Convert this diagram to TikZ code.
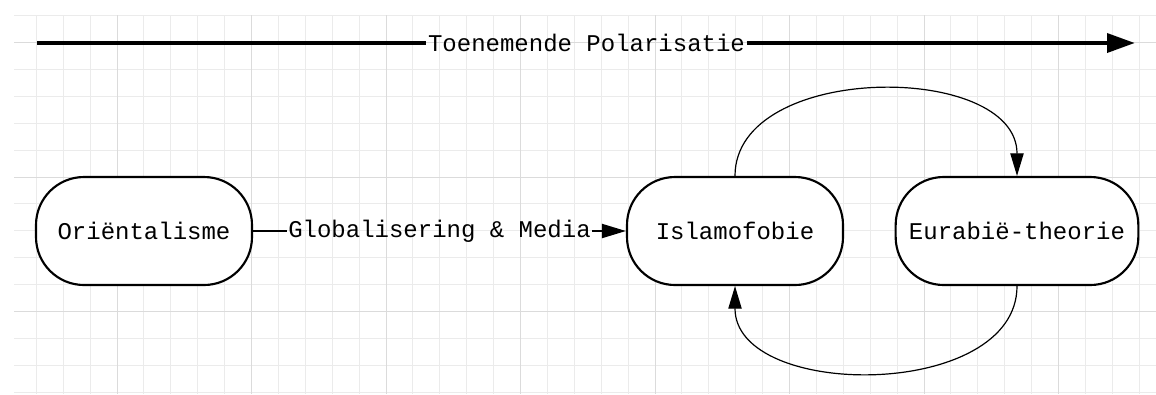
\documentclass[tikz,border=0pt]{standalone}
\usepackage{fontspec}
\newfontfamily\diafont{Liberation Mono}
\usetikzlibrary{arrows.meta, positioning}

\tikzset{
    stage/.style={draw=black, line width=1.6pt, fill=white, rounded corners=36pt,
        minimum height=81pt, inner sep=0pt, font=\diafont\fontsize{18}{21}\selectfont},
    flowlabel/.style={inner sep=1pt, font=\diafont\fontsize{18}{21}\selectfont},
    minorline/.style={draw=black!8, line width=0.7pt},
    majorline/.style={draw=black!14, line width=0.7pt},
}

\begin{document}
\begin{tikzpicture}[x=0.75pt, y=-0.75pt]
    \useasboundingbox (0,0) rectangle (1156,394);
    \fill[white] (0,0) rectangle (1156,394);

    % grid
    \foreach \k in {-3,...,38}
        \draw[minorline] ({117+26.9*\k},15) -- ({117+26.9*\k},394);
    \foreach \k in {-6,...,8}
        \draw[minorline] (14,{177+26.9*\k}) -- (1156,{177+26.9*\k});
    \foreach \k in {0,5,...,35}
        \draw[majorline] ({117+26.9*\k},15) -- ({117+26.9*\k},394);
    \foreach \k in {-5,0,5}
        \draw[majorline] (14,{177+26.9*\k}) -- (1156,{177+26.9*\k});

    \node[stage, minimum width=162pt] (orient) at (144,231) {Oriëntalisme};
    \node[stage, minimum width=162pt] (islam) at (735,231) {Islamofobie};
    \node[stage, minimum width=182pt] (eurabie) at (1017,231) {Eurabië-theorie};

    \coordinate (polstart) at (37,43);
    \coordinate (polend) at (1135,43);
    \node[flowlabel] (polar) at (586.5,43) {Toenemende Polarisatie};
    \draw[line width=3.4pt] (polstart) -- (polar.west);
    \draw[line width=3.4pt, -{Triangle[length=21pt, width=14pt]}] (polar.east) -- (polend);

    \node[flowlabel] (glob) at (439.5,231) {Globalisering \& Media};
    \draw[line width=1.5pt] (orient.east) -- (glob.west);
    \draw[line width=1.5pt, -{Triangle[length=18pt, width=10.5pt]}] (glob.east) -- (islam.west);

    \draw[line width=0.9pt, -{Triangle[length=17pt, width=10pt]}]
        (islam.north) to[out=90, in=90, looseness=1.04] (eurabie.north);
    \draw[line width=0.9pt, -{Triangle[length=17pt, width=10pt]}]
        (eurabie.south) to[out=-90, in=-90, looseness=1.04] (islam.south);
\end{tikzpicture}
\end{document}
